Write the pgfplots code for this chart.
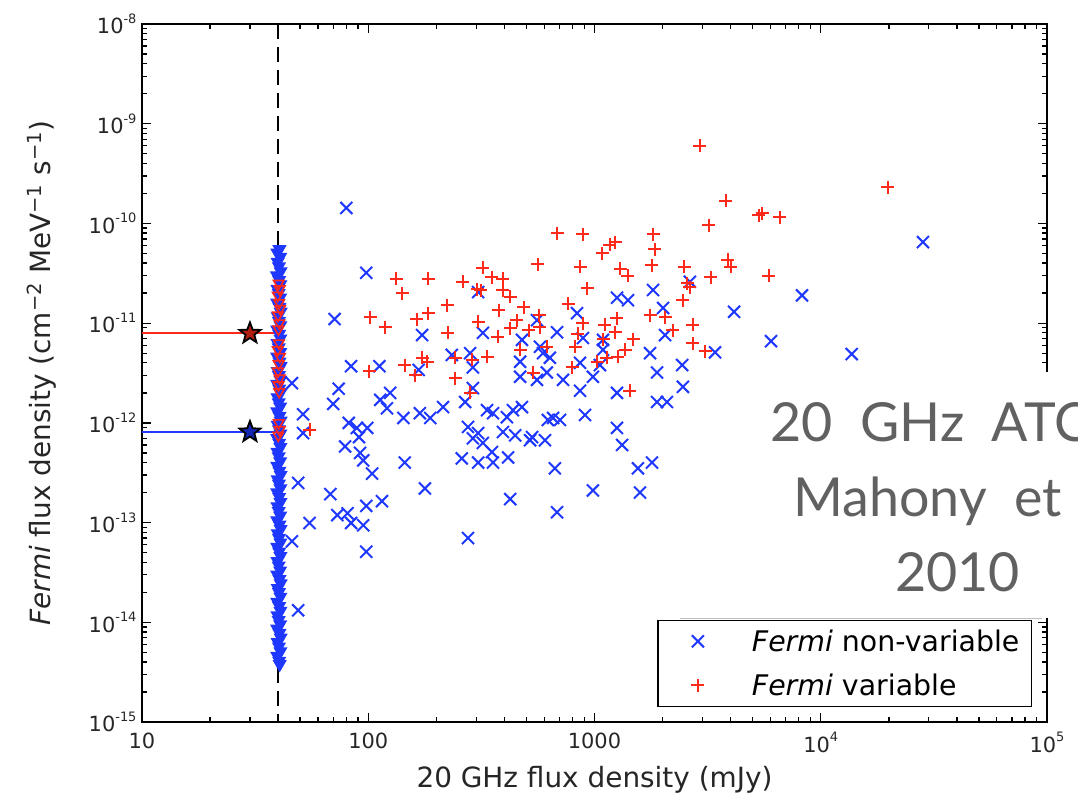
\documentclass[border=0pt]{standalone}
\usepackage{fontspec}
\setmainfont{DejaVu Sans}
\newfontfamily\gill{Lato}[WordSpace=2]
\usepackage{pgfplots}
\pgfplotsset{compat=1.18}
\usetikzlibrary{plotmarks}
\definecolor{mblue}{rgb}{0.12,0.22,1}
\definecolor{mred}{rgb}{1,0.16,0.1}
\newcommand\E[1]{10\raisebox{0.5em}{\fontsize{13}{13}\selectfont #1}}
\pgfdeclareplotmark{fstar}{%
 \pgfpathmoveto{\pgfpointpolar{90}{\pgfplotmarksize}}%
 \pgfpathlineto{\pgfpointpolar{126}{0.42\pgfplotmarksize}}%
 \pgfpathlineto{\pgfpointpolar{162}{\pgfplotmarksize}}%
 \pgfpathlineto{\pgfpointpolar{198}{0.42\pgfplotmarksize}}%
 \pgfpathlineto{\pgfpointpolar{234}{\pgfplotmarksize}}%
 \pgfpathlineto{\pgfpointpolar{270}{0.42\pgfplotmarksize}}%
 \pgfpathlineto{\pgfpointpolar{306}{\pgfplotmarksize}}%
 \pgfpathlineto{\pgfpointpolar{342}{0.42\pgfplotmarksize}}%
 \pgfpathlineto{\pgfpointpolar{18}{\pgfplotmarksize}}%
 \pgfpathlineto{\pgfpointpolar{54}{0.42\pgfplotmarksize}}%
 \pgfpathclose
 \pgfusepathqfillstroke}
\begin{document}
\begin{tikzpicture}
\path[use as bounding box] (0,0) rectangle (1078bp,796bp);
\begin{axis}[
 at={(142bp,74bp)}, anchor=south west,
 scale only axis, width=905bp, height=698bp,
 xmode=log, ymode=log,
 xmin=10, xmax=1e5, ymin=1e-15, ymax=1e-8,
 axis line style={line width=1.6bp},
 every tick/.style={line width=1.3bp, black},
 major tick length=9bp, minor tick length=5bp,
 xtick={10,100,1000,10000,100000},
 xticklabels={10,100,1000,\E{4},\E{5}},
 minor xtick={20,30,40,50,60,70,80,90,200,300,400,500,600,700,800,900,2000,3000,4000,5000,6000,7000,8000,9000,20000,30000,40000,50000,60000,70000,80000,90000},
 ytick={1e-15,1e-14,1e-13,1e-12,1e-11,1e-10,1e-9,1e-8},
 yticklabels={\E{-15},\E{-14},\E{-13},\E{-12},\E{-11},\E{-10},\E{-9},\E{-8}},
 minor ytick={2e-15,3e-15,4e-15,5e-15,6e-15,7e-15,8e-15,9e-15,2e-14,3e-14,4e-14,5e-14,6e-14,7e-14,8e-14,9e-14,2e-13,3e-13,4e-13,5e-13,6e-13,7e-13,8e-13,9e-13,2e-12,3e-12,4e-12,5e-12,6e-12,7e-12,8e-12,9e-12,2e-11,3e-11,4e-11,5e-11,6e-11,7e-11,8e-11,9e-11,2e-10,3e-10,4e-10,5e-10,6e-10,7e-10,8e-10,9e-10,2e-9,3e-9,4e-9,5e-9,6e-9,7e-9,8e-9,9e-9},
 ticklabel style={font=\fontsize{21}{25}\selectfont, text=black!85},
 yticklabel style={xshift=-2bp},
 xticklabel style={yshift=-7bp},
 xlabel={20 GHz flux density (mJy)},
 ylabel={\textit{Fermi} flux density (cm\textsuperscript{−2} MeV\textsuperscript{−1} s\textsuperscript{−1})},
 label style={font=\fontsize{28}{32}\selectfont, text=black!85},
 xlabel style={at={(axis description cs:0.5,-0.083)}, anchor=center},
 ylabel style={at={(axis description cs:-0.1105,0.5)}, anchor=center},
 legend style={at={(1,0)}, anchor=south east, xshift=-15bp, yshift=15bp,
   draw=black, line width=1.3bp, font=\fontsize{28.5}{30}\selectfont,
   inner xsep=10bp, inner ysep=7.5bp, row sep=17bp, cells={anchor=west}},
 legend image code/.code={\path (0bp,0bp) (80bp,0bp); \draw[#1] plot coordinates {(29bp,0bp)};},
]
% non-variable sources
\addplot[only marks, mark=x, mark size=8.5bp, mblue, line width=2bp] coordinates {
(80,1.43e-10) (98,3.2e-11) (71,1.1e-11) (84,3.7e-12) (112,3.7e-12) (46,2.5e-12)
(74,2.2e-12) (70,1.55e-12) (51.5,1.22e-12) (51.5,7.9e-13) (113,1.7e-12) (121,1.4e-12)
(82,1.0e-12) (89,8.9e-13) (99,8.9e-13) (91,7.2e-13) (79,5.8e-13) (92,5.0e-13)
(95,4.2e-13) (104,3.1e-13) (49,2.5e-13) (68,1.93e-13) (115,1.64e-13) (98,1.47e-13)
(55,9.9e-14) (73,1.19e-13) (81,1.24e-13) (84,9.9e-14) (95,9.4e-14) (46,6.5e-14)
(98,5.1e-14) (49,1.32e-14) (173,7.6e-12) (167,3.4e-12) (234,4.8e-12) (282,5.0e-12)
(306,2.05e-11) (321,8.0e-12) (125,2.0e-12) (143,1.12e-12) (169,1.25e-12) (188,1.12e-12)
(214,1.44e-12) (268,1.62e-12) (290,2.23e-12) (335,1.34e-12) (356,1.25e-12) (410,1.14e-12)
(436,1.34e-12) (478,1.44e-12) (276,9.1e-13) (306,7.9e-13) (394,8.1e-13) (469,4.1e-12)
(469,2.9e-12) (478,6.8e-12) (557,1.07e-11) (574,5.8e-12) (592,5.0e-12) (635,4.5e-12)
(557,2.7e-12) (616,3.2e-12) (683,8.1e-12) (726,2.7e-12) (837,1.26e-11) (863,4.0e-12)
(863,2.1e-12) (984,2.9e-12) (1057,3.8e-12) (1090,6.8e-12) (1090,5.4e-12) (1257,1.8e-11)
(1406,1.7e-11) (1257,2.0e-12) (1257,8.9e-13) (908,1.2e-12) (656,1.12e-12) (622,1.07e-12)
(704,1.07e-12) (530,7.2e-13) (889,7.1e-12) (1815,2.15e-11) (2010,1.42e-11) (2050,7.6e-12)
(1760,5.0e-12) (1890,3.2e-12) (2440,3.8e-12) (2460,2.3e-12) (1890,1.62e-12) (2090,1.62e-12)
(2640,2.6e-11) (290,3.6e-12) (446,7.5e-13) (290,7.0e-13) (145,4.0e-13) (178,2.2e-13)
(321,6.3e-13) (352,5.1e-13) (259,4.4e-13) (306,4.0e-13) (356,4.0e-13) (415,4.5e-13)
(519,6.7e-13) (604,6.7e-13) (1324,6.0e-13) (668,3.5e-13) (424,1.72e-13) (683,1.27e-13)
(984,2.1e-13) (1556,3.5e-13) (1795,4.0e-13) (1589,2.0e-13) (276,7.0e-14) (28300,6.5e-11)
(8260,1.9e-11) (4140,1.3e-11) (6030,6.6e-12) (13700,4.9e-12) (3410,5.1e-12)
};
\addlegendentry{\textit{Fermi} non-variable}
% variable sources
\addplot[only marks, mark=+, mark size=6.5bp, mred, line width=2bp] coordinates {
(2920,6.0e-10) (19800,2.3e-10) (3810,1.68e-10) (3200,9.6e-11) (5330,1.21e-10) (5500,1.27e-10)
(6600,1.16e-10) (3890,4.3e-11) (4010,3.7e-11) (2490,3.7e-11) (3270,2.9e-11) (5900,3.0e-11)
(2570,2.5e-11) (2720,9.6e-12) (2720,6.3e-12) (3080,5.2e-12) (2460,1.7e-11) (683,8.0e-11)
(889,7.8e-11) (1815,7.8e-11) (1850,5.5e-11) (1795,3.8e-11) (1170,6.1e-11) (1233,6.5e-11)
(1080,5.0e-11) (562,3.9e-11) (863,3.7e-11) (927,2.25e-11) (1297,3.5e-11) (1406,3.0e-11)
(2640,2.3e-11) (133,2.8e-11) (184,2.8e-11) (141,2.0e-11) (262,2.6e-11) (321,3.6e-11)
(352,2.9e-11) (394,2.8e-11) (303,2.2e-11) (314,2.15e-11) (394,2.15e-11) (424,1.83e-11)
(223,1.52e-11) (184,1.26e-11) (164,1.1e-11) (102,1.15e-11) (119,9.1e-12) (306,1.03e-11)
(378,1.35e-11) (487,1.45e-11) (569,1.2e-11) (454,1.07e-11) (424,8.9e-12) (374,7.3e-12)
(225,8.0e-12) (574,9.1e-12) (513,8.5e-12) (764,1.56e-11) (889,1.0e-11) (845,7.8e-12)
(820,5.8e-12) (616,5.8e-12) (469,5.4e-12) (1112,9.6e-12) (1257,1.12e-11) (1233,8.1e-12)
(1480,6.9e-12) (1091,6.9e-12) (1365,5.4e-12) (1270,4.6e-12) (1135,4.5e-12) (1026,4.1e-12)
(1760,1.2e-11) (2050,1.15e-11) (2220,8.5e-12) (796,3.6e-12) (535,3.2e-12) (335,4.6e-12)
(288,4.3e-12) (242,4.5e-12) (182,4.1e-12) (173,4.5e-12) (145,3.8e-12) (161,3.0e-12)
(101,3.3e-12) (242,2.8e-12) (282,2.0e-12) (1435,2.1e-12) (55,8.5e-13)
};
\addlegendentry{\textit{Fermi} variable}
% upper limits, non-variable
\addplot[forget plot, only marks, mark=triangle*, mark size=7bp, mblue, line width=1.2bp, mark options={rotate=180, fill=mblue}] coordinates {
(40.5,5.5e-11) (39.6,5.1e-11) (40.8,4.6e-11) (39.8,4.1e-11) (40.3,3.7e-11) (41,3.3e-11)
(39.5,3.0e-11) (40.4,2.7e-11) (40.9,2.45e-11) (39.7,2.2e-11) (40.2,2.0e-11) (40.8,1.8e-11)
(39.6,1.6e-11) (40.5,1.45e-11) (41,1.3e-11) (39.8,1.17e-11) (40.3,1.05e-11) (40.9,9.5e-12)
(39.6,8.6e-12) (40.4,7.8e-12) (40.9,7.0e-12) (39.7,6.3e-12) (40.2,5.7e-12) (40.8,5.1e-12)
(39.6,4.6e-12) (40.5,4.1e-12) (41,3.7e-12) (39.8,3.3e-12) (40.3,3.0e-12) (40.9,2.7e-12)
(39.6,2.45e-12) (40.4,2.2e-12) (40.9,2.0e-12) (39.7,1.8e-12) (40.2,1.6e-12) (40.8,1.45e-12)
(39.6,1.3e-12) (40.5,1.17e-12) (41,1.05e-12) (39.8,9.5e-13) (40.3,8.6e-13) (40.9,7.8e-13)
(39.6,7.0e-13) (40.4,6.3e-13) (40.9,5.7e-13) (39.7,5.1e-13) (40.2,4.6e-13) (40.8,4.1e-13)
(39.6,3.7e-13) (40.5,3.3e-13) (41,3.0e-13) (39.8,2.7e-13) (40.3,2.45e-13) (40.9,2.2e-13)
(39.6,2.0e-13) (40.4,1.8e-13) (40.9,1.6e-13) (39.7,1.45e-13) (40.2,1.3e-13) (40.8,1.17e-13)
(39.6,1.05e-13) (40.5,9.5e-14) (41,8.6e-14) (39.8,7.8e-14) (40.3,7.0e-14) (40.9,6.3e-14)
(39.6,5.7e-14) (40.4,5.1e-14) (40.9,4.6e-14) (39.7,4.1e-14) (40.2,3.7e-14) (40.8,3.3e-14)
(39.6,3.0e-14) (40.5,2.7e-14) (41,2.45e-14) (39.8,2.2e-14) (40.3,2.0e-14) (40.9,1.8e-14)
(39.6,1.6e-14) (40.4,1.45e-14) (40.9,1.3e-14) (39.7,1.17e-14) (40.2,1.05e-14) (40.8,9.5e-15)
(39.6,8.6e-15) (40.5,7.8e-15) (41,7.0e-15) (39.8,6.3e-15) (40.3,5.7e-15) (40.9,5.1e-15)
(39.6,4.6e-15) (40.4,4.1e-15) (40.6,3.8e-15)
};
% upper limits, variable
\addplot[forget plot, only marks, mark=triangle, mark size=6bp, mred, line width=1.6bp, mark options={rotate=180}] coordinates {
(40.2,2.5e-11) (40.6,2.2e-11) (39.8,1.9e-11) (40.4,1.6e-11) (40.8,1.4e-11) (39.9,1.2e-11)
(40.5,1.0e-11) (40.1,8.7e-12) (40.3,6.3e-12) (39.8,5.4e-12) (40.7,4.6e-12) (40.2,3.9e-12)
(39.9,3.3e-12) (40.6,2.8e-12) (40.1,2.4e-12) (40.4,2.05e-12) (40.2,1.0e-12) (40.6,8.5e-13)
(40.0,7.5e-13)
};
% 40 mJy completeness limit
\addplot[forget plot, black, line width=1.8bp, dash pattern=on 15bp off 8bp] coordinates {(40,1e-8) (40,1e-15)};
% stacked averages
\addplot[forget plot, color=mred, line width=2bp] coordinates {(10,7.9e-12) (40,7.9e-12)};
\addplot[forget plot, color=mblue, line width=2bp] coordinates {(10,8.1e-13) (40,8.1e-13)};
\addplot[forget plot, only marks, mark=fstar, mark size=11bp, mark options={draw=black, fill=mred!70!black, line width=1.8bp}] coordinates {(30,7.9e-12)};
\addplot[forget plot, only marks, mark=fstar, mark size=11bp, mark options={draw=black, fill=mblue!70!black, line width=1.8bp}] coordinates {(30,8.1e-13)};
\end{axis}
% slide annotation
\fill[white] (720bp,178bp) rectangle (1078bp,424bp);
\draw[black!25, line width=0.8bp] (680bp,178bp) -- (1042bp,178bp);
\node[anchor=base west, inner sep=0pt, text=black!62] at (770bp,354bp) {\gill\fontsize{54}{54}\selectfont 20 GHz ATCA};
\node[anchor=base west, inner sep=0pt, text=black!62] at (793bp,279bp) {\gill\fontsize{54}{54}\selectfont Mahony et al.};
\node[anchor=base west, inner sep=0pt, text=black!62] at (895bp,204bp) {\gill\fontsize{54}{54}\selectfont 2010};
\end{tikzpicture}
\end{document}
